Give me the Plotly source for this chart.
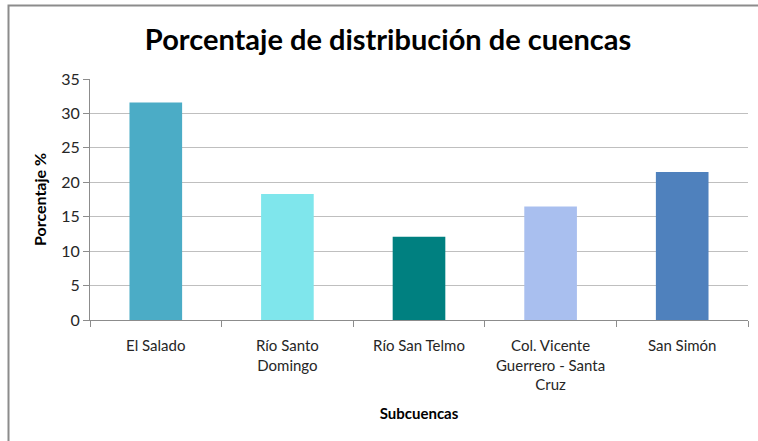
import plotly.graph_objects as go

subcuencas = [
    "El Salado",
    "Río Santo<br>Domingo",
    "Río San Telmo",
    "Col. Vicente<br>Guerrero - Santa<br>Cruz",
    "San Simón",
]
porcentaje = [31.6, 18.3, 12.1, 16.5, 21.5]
bar_colors = ["#4BACC6", "#7FE6EC", "#008080", "#A9BFEF", "#4F81BD"]
y_ticks = [0, 5, 10, 15, 20, 25, 30, 35]

FONT = "Lato, Calibri, Carlito, Noto Sans, sans-serif"

W, H = 758, 441
L, R, T, B = 90, 10, 79, 121
pw, ph = W - L - R, H - T - B


def px_x(x):
    return (x - L) / pw


def px_y(y):
    return (H - B - y) / ph


fig = go.Figure()
fig.add_trace(
    go.Bar(
        x=subcuencas,
        y=porcentaje,
        marker={"color": bar_colors, "line": {"width": 0}},
        width=0.4,
        showlegend=False,
    )
)

fig.update_layout(
    width=W,
    height=H,
    margin={"l": L, "r": R, "t": T, "b": B, "autoexpand": False},
    plot_bgcolor="white",
    paper_bgcolor="white",
    font={"family": FONT, "size": 14, "color": "#262626"},
    title={
        "text": "<b>Porcentaje de distribución de cuencas</b>",
        "x": 0.512,
        "xanchor": "center",
        "y": 0.91,
        "yanchor": "middle",
        "font": {"size": 29, "color": "#000000", "family": FONT},
    },
    # chart frame: only its left and top edges fall inside the picture
    shapes=[
        {
            "type": "rect",
            "xref": "paper",
            "yref": "paper",
            "x0": px_x(8.5),
            "x1": px_x(780),
            "y0": px_y(460),
            "y1": px_y(5.5),
            "line": {"color": "#8C8C8C", "width": 2},
            "layer": "below",
        }
    ],
)

fig.update_xaxes(
    type="category",
    automargin=False,
    showline=True,
    linecolor="#8C8C8C",
    linewidth=1,
    ticks="outside",
    tickson="boundaries",
    ticklen=6,
    tickcolor="#8C8C8C",
    showgrid=False,
    tickangle=0,
    ticklabelstandoff=12,
    tickfont={"size": 15, "color": "#262626"},
    title={
        "text": "<b>Subcuencas</b>",
        "font": {"size": 15, "color": "#000000"},
        "standoff": 16,
    },
)
fig.update_yaxes(
    range=[0, 35],
    tickvals=y_ticks,
    automargin=False,
    showline=True,
    linecolor="#8C8C8C",
    linewidth=1,
    ticks="outside",
    ticklen=6,
    tickcolor="#8C8C8C",
    showgrid=True,
    gridcolor="#BFBFBF",
    gridwidth=1,
    zeroline=False,
    tickfont={"size": 16, "color": "#262626"},
    title={
        "text": "<b>Porcentaje %</b>",
        "font": {"size": 16, "color": "#000000"},
        "standoff": 10,
    },
)

# page body has an 8px default margin; drop it so the figure fills the window
fig.write_html(
    "out.html",
    config={"displayModeBar": False},
    post_script="document.body.style.margin = '0px';",
)
